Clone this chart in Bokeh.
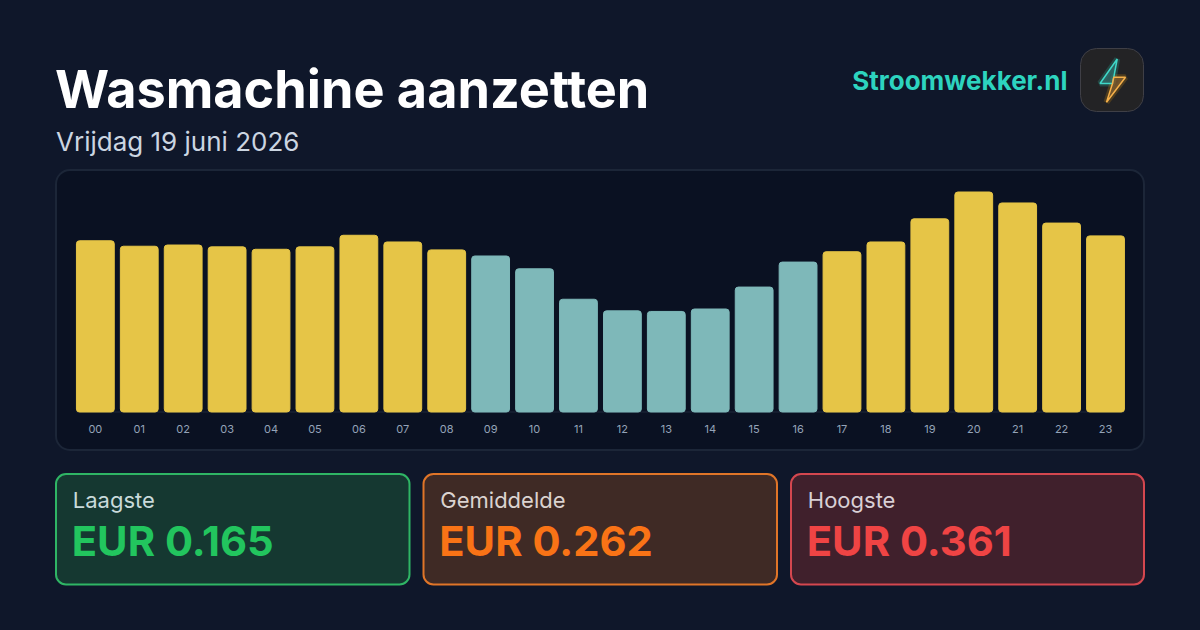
from bokeh.plotting import figure
from bokeh.models import ColumnDataSource, Range1d, FixedTicker, Label, BoxAnnotation, PolyAnnotation
from bokeh.embed import file_html
from bokeh.resources import INLINE

hours = ["00","01","02","03","04","05","06","07","08","09","10","11",
         "12","13","14","15","16","17","18","19","20","21","22","23"]
prices = [0.281,0.272,0.274,0.271,0.267,0.271,0.290,0.279,0.266,0.256,0.235,0.185,
          0.166,0.165,0.169,0.205,0.246,0.263,0.279,0.317,0.361,0.343,0.310,0.289]
cheap_window = [9,10,11,12,13,14,15,16]
title_text = "Wasmachine aanzetten"
subtitle_text = "Vrijdag 19 juni 2026"
brand_text = "Stroomwekker.nl"
card_labels = ["Laagste","Gemiddelde","Hoogste"]
card_values = ["EUR 0.165","EUR 0.262","EUR 0.361"]

W, H = 1200, 630
BASE_Y, PX_PER_EUR = 411.5, 609.4
X0, SLOT, BAR_W = 94.85, 43.92, 37.8
sx = lambda x: x
sy = lambda y: H - y

YEL, TEAL = "#e6c547", "#7eb8b9"
colors = [TEAL if i in cheap_window else YEL for i in range(24)]
src = ColumnDataSource(dict(x=list(range(24)), top=prices, color=colors))

p = figure(width=W, height=H, output_backend="svg", toolbar_location=None,
           x_range=Range1d(-X0/SLOT, (W-X0)/SLOT),
           y_range=Range1d(-(H-BASE_Y)/PX_PER_EUR, BASE_Y/PX_PER_EUR),
           min_border_left=0, min_border_right=0, min_border_top=0, min_border_bottom=0)
p.background_fill_color = None
p.border_fill_color = None
p.outline_line_color = None
p.grid.visible = False
p.yaxis.visible = False
ax = p.xaxis[0]
ax.fixed_location = 0
ax.ticker = FixedTicker(ticks=list(range(24)))
ax.major_label_overrides = {i: h for i, h in enumerate(hours)}
ax.major_tick_line_color = None
ax.minor_tick_line_color = None
ax.axis_line_color = None
ax.major_label_text_color = "#94a3b8"
ax.major_label_text_font = "Inter"
ax.major_label_text_font_size = "11px"
ax.major_label_standoff = 7


def box(l, t, r, b, fill, line, lw, radius):
    p.add_layout(BoxAnnotation(left=sx(l), right=sx(r), top=sy(t), bottom=sy(b),
                               left_units="screen", right_units="screen", top_units="screen", bottom_units="screen",
                               fill_color=fill, fill_alpha=1, line_color=line, line_width=lw, line_alpha=1,
                               border_radius=radius, level="underlay", editable=False))


def text(x, y, t, size, color, bold=False, align="left"):
    p.add_layout(Label(x=sx(x), y=sy(y), x_units="screen", y_units="screen", text=t,
                       text_font="Inter", text_font_size=f"{size}px", text_color=color,
                       text_font_style="bold" if bold else "normal", text_align=align,
                       text_baseline="alphabetic"))


def poly(pts, fill, fa, line, lw, la):
    p.add_layout(PolyAnnotation(xs=[sx(a) for a, _ in pts], ys=[sy(b) for _, b in pts],
                                xs_units="screen", ys_units="screen",
                                fill_color=fill, fill_alpha=fa, line_color=line, line_width=lw, line_alpha=la))


# chart panel
box(55.5, 169.5, 1143.5, 449.5, "#0a1122", "#1c2638", 2, 14)
half = BAR_W / SLOT / 2
p.line([-half, len(hours) - 1 + half], [0, 0], line_color="#1e293b", line_width=1)
p.vbar(x="x", top="top", bottom=0, width=BAR_W/SLOT, color="color", source=src, border_radius=3)

text(54.5, 88, title_text, 52.2, "#ffffff", True)
text(55.5, 141, subtitle_text, 26, "#cbd5e1")
text(1067, 80, brand_text, 26, "#2dd4bf", True, "right")

# logo
box(1080, 48, 1143, 111, "#232325", "#3f3f46", 1, 16)
upper = [(1116.7,58.5),(1099.5,83),(1112,83),(1113.3,76.7)]
lower = [(1125,76.7),(1113.3,76.7),(1112,83),(1106,101.7)]
poly(upper, "#2dd4bf", 0.10, "#2dd4bf", 6, 0.2)
poly(lower, "#f59e0b", 0.10, "#f59e0b", 6, 0.2)
poly(upper, "#2f6a68", 0.75, "#3fd8c8", 1.5, 1)
poly(lower, "#7a5a30", 0.75, "#f5b04a", 1.5, 1)

# cards
cards = [(55.5, 409, "#153831", "#2fb565", "#22c55e", "#c9dadb"),
         (423, 776.5, "#3f2a25", "#e07528", "#f97316", "#dbd3d0"),
         (790.5, 1143.5, "#40202c", "#d4474f", "#ef4444", "#d9d0d6")]
for (l, r, fill, line, col, lab), a, b in zip(cards, card_labels, card_values):
    box(l, 473.5, r, 584, fill, line, 2, 10)
    text(l + 16.8, 499.5, a, 22, lab)
    text(l + 15.8, 540.5, b, 41.7, col, True)

html = file_html(p, INLINE).replace(
    "<head>", "<head><style>html,body{background:#0f172a;}</style>", 1)
open("out.html", "w").write(html)
